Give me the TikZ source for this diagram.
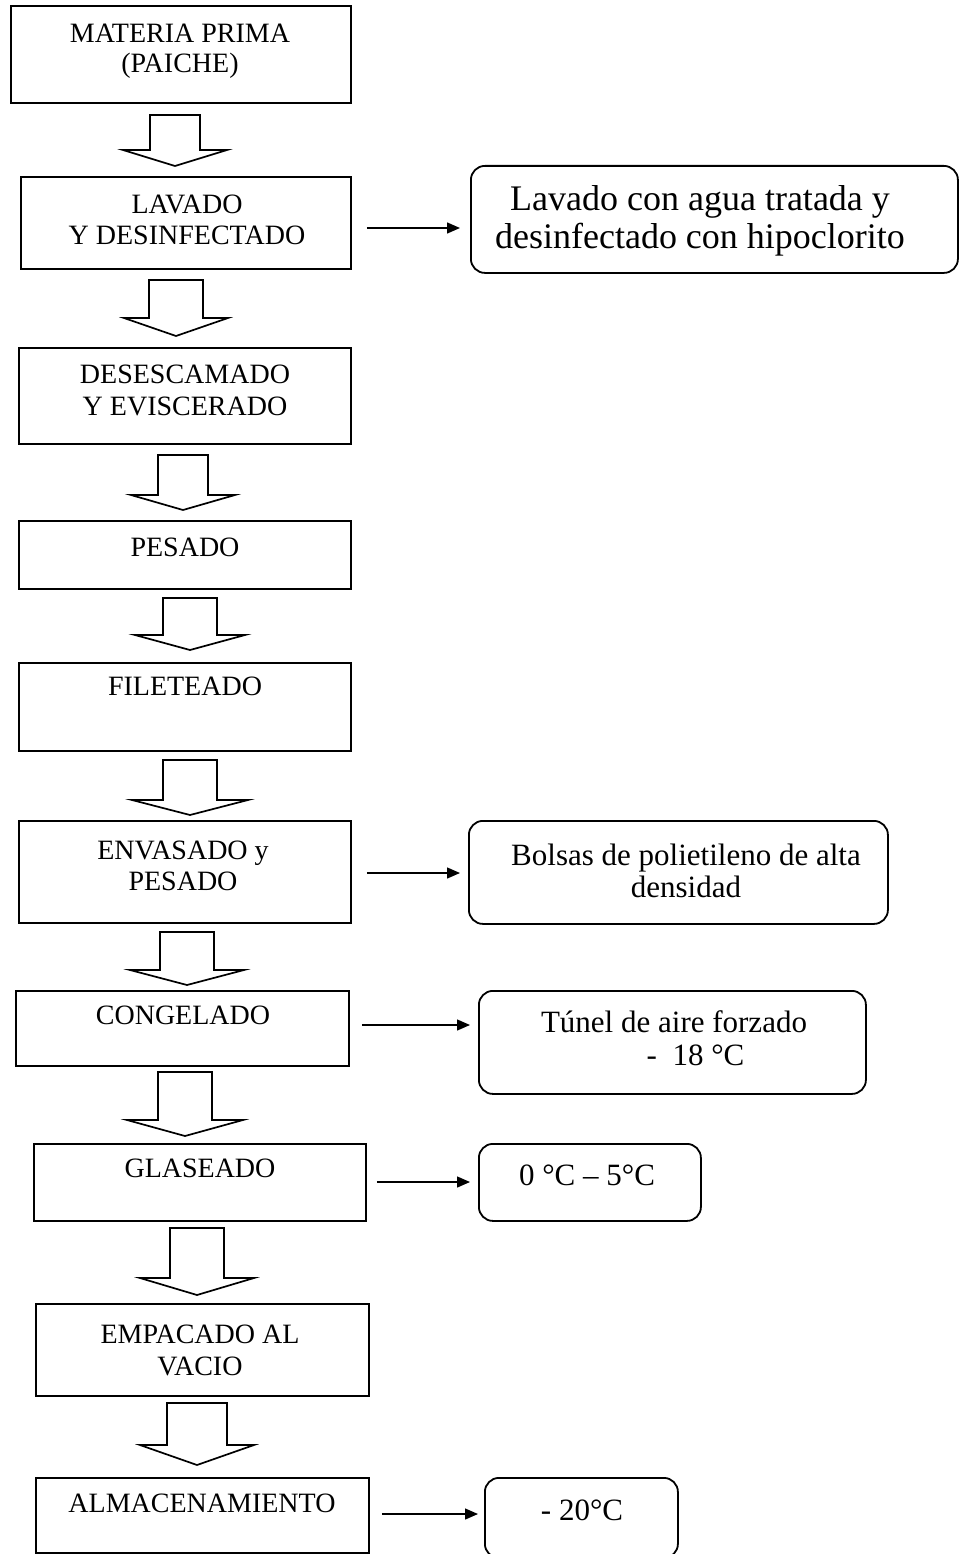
\documentclass[tikz,border=0pt]{standalone}
\usepackage{fontspec}
\setmainfont{Liberation Serif}
\usetikzlibrary{arrows.meta}
\newcommand\blockarrow[6]{%
  \draw[barrow] (#1-#5,#2) -- (#1-#5,#3) -- (#1-#6,#3) -- (#1,#4) -- (#1+#6,#3) -- (#1+#5,#3) -- (#1+#5,#2) -- cycle;}
\begin{document}
\begin{tikzpicture}[x=1pt,y=-1pt,
  box/.style={draw,line width=1.8pt,rectangle,anchor=north west,inner sep=0pt},
  rbox/.style={draw,line width=1.8pt,rounded corners=14pt,rectangle,anchor=north west,inner sep=0pt},
  ltext/.style={font=\fontsize{28}{32}\selectfont,align=center,anchor=base,inner sep=0pt},
  rtext/.style={font=\fontsize{31}{32}\selectfont,align=center,anchor=base,inner sep=0pt},
  flow/.style={line width=1.4pt,-{Triangle[length=13pt,width=11pt]}},
  barrow/.style={line width=1.7pt,line join=miter}]
\useasboundingbox[fill=white] (0,0) rectangle (960,1554);

% left column boxes
\node[box,minimum width=340pt,minimum height=97pt] (s1) at (10,5) {};
\node[box,minimum width=330pt,minimum height=92pt] (s2) at (20,176) {};
\node[box,minimum width=332pt,minimum height=96pt] (s3) at (18,347) {};
\node[box,minimum width=332pt,minimum height=68pt] (s4) at (18,520) {};
\node[box,minimum width=332pt,minimum height=88pt] (s5) at (18,662) {};
\node[box,minimum width=332pt,minimum height=102pt] (s6) at (18,820) {};
\node[box,minimum width=333pt,minimum height=75pt] (s7) at (15,990) {};
\node[box,minimum width=332pt,minimum height=77pt] (s8) at (33,1143) {};
\node[box,minimum width=333pt,minimum height=92pt] (s9) at (35,1303) {};
\node[box,minimum width=333pt,minimum height=75pt] (s10) at (35,1477) {};

% left texts (anchor = baseline of last line)
\node[ltext,font=\fontsize{28}{30}\selectfont] (t1) at (180,73) {MATERIA PRIMA\\(PAICHE)};
\node[ltext] (t2) at (187,245) {LAVADO\\Y DESINFECTADO};
\node[ltext] (t3) at (185,415) {DESESCAMADO\\Y EVISCERADO};
\node[ltext] (t4) at (185,556) {PESADO};
\node[ltext] (t5) at (185,695) {FILETEADO};
\node[ltext,font=\fontsize{28}{31}\selectfont] (t6) at (183,890) {ENVASADO y\\PESADO};
\node[ltext] (t7) at (183,1024) {CONGELADO};
\node[ltext] (t8) at (200,1177) {GLASEADO};
\node[ltext] (t9) at (200,1375) {EMPACADO AL\\VACIO};
\node[ltext] (t10) at (202,1512) {ALMACENAMIENTO};

% block arrows between steps
\blockarrow{175}{115}{150}{166}{25}{52}
\blockarrow{176}{280}{318}{336}{27}{52}
\blockarrow{183}{455}{495}{510}{25}{52}
\blockarrow{190}{598}{635}{650}{27}{55}
\blockarrow{190}{760}{800}{815}{27}{58}
\blockarrow{187}{932}{970}{985}{27}{57}
\blockarrow{185}{1072}{1120}{1136}{27}{58}
\blockarrow{197}{1228}{1278}{1295}{27}{57}
\blockarrow{197}{1403}{1445}{1465}{30}{57}

% right boxes
\node[rbox,minimum width=487pt,minimum height=107pt] (r1) at (470,165) {};
\node[rbox,minimum width=419pt,minimum height=103pt] (r2) at (468,820) {};
\node[rbox,minimum width=387pt,minimum height=103pt] (r3) at (478,990) {};
\node[rbox,minimum width=222pt,minimum height=77pt] (r4) at (478,1143) {};
\node[rbox,minimum width=193pt,minimum height=80pt] (r5) at (484,1477) {};

% right texts
\node[rtext,font=\fontsize{36}{38}\selectfont] (u1) at (700,249) {Lavado con agua tratada y\\desinfectado con hipoclorito};
\node[rtext] (u2) at (686,897) {Bolsas de polietileno de alta\\densidad};
\node[rtext,font=\fontsize{31}{33}\selectfont] (u3) at (674,1065) {Túnel de aire forzado\\\hspace*{43pt}-\ \ 18 °C};
\node[rtext] (u4) at (587,1185) {0 °C – 5°C};
\node[rtext] (u5) at (582,1520) {- 20°C};

% side connectors
\draw[flow,shorten <=15pt,shorten >=10pt] (s2.east |- 0,228) -- (r1.west |- 0,228);
\draw[flow,shorten <=15pt,shorten >=8pt] (s6.east |- 0,873) -- (r2.west |- 0,873);
\draw[flow,shorten <=12pt,shorten >=8pt] (s7.east |- 0,1025) -- (r3.west |- 0,1025);
\draw[flow,shorten <=10pt,shorten >=8pt] (s8.east |- 0,1182) -- (r4.west |- 0,1182);
\draw[flow,shorten <=12pt,shorten >=6pt] (s10.east |- 0,1514) -- (r5.west |- 0,1514);
\end{tikzpicture}
\end{document}
